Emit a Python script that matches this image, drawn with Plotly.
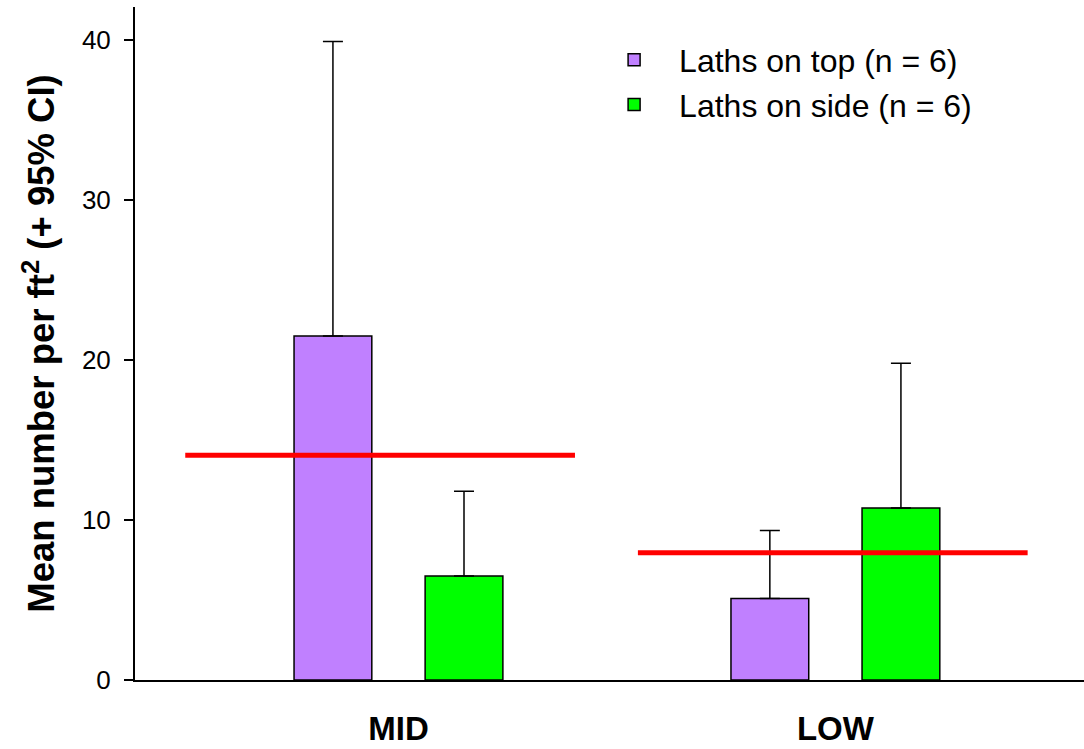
import numpy as np
import plotly.graph_objects as go

categories = ["MID", "LOW"]
top_mean = [21.5, 5.1]
top_upper = [39.9, 9.35]
side_mean = [6.5, 10.75]
side_upper = [11.8, 19.8]
overall_mean = [14.05, 7.95]

series_names = ["Laths on top (n = 6)", "Laths on side (n = 6)"]
colors = ["#C080FF", "#00FF00"]

idx = np.arange(len(categories))
offset = 0.15
bar_w = 0.178
half_line = 0.446
line_shift = [-0.042, -0.006]

fig = go.Figure()

for k, (mean, upper) in enumerate([(top_mean, top_upper), (side_mean, side_upper)]):
    err = [u - m for u, m in zip(upper, mean)]
    fig.add_trace(go.Bar(
        x=idx + (k * 2 - 1) * offset,
        y=mean,
        width=bar_w,
        name=series_names[k],
        marker=dict(color=colors[k], line=dict(color="black", width=1.5)),
        error_y=dict(type="data", array=err, symmetric=False, arrayminus=[0] * len(err),
                     color="black", thickness=1.5, width=10),
    ))

lx, ly = [], []
for i, m in zip(idx, overall_mean):
    c = i + line_shift[i]
    lx += [c - half_line, c + half_line, None]
    ly += [m, m, None]
fig.add_trace(go.Scatter(x=lx, y=ly, mode="lines", line=dict(color="#FF0000", width=5),
                         showlegend=False, hoverinfo="skip"))

fig.update_layout(
    width=1084, height=749,
    margin=dict(l=135, r=0, t=7, b=69),
    plot_bgcolor="white", paper_bgcolor="white",
    font=dict(family="Arial, Liberation Sans, sans-serif", color="black"),
    showlegend=True,
    legend=dict(x=0.4785, y=0.962, xanchor="left", yanchor="top", itemwidth=80,
                font=dict(size=32), bgcolor="rgba(0,0,0,0)"),
    xaxis=dict(range=[-0.603, 1.569], tickvals=list(idx),
               ticktext=["<b>%s</b>" % c for c in categories],
               showline=True, linecolor="black", linewidth=2, ticks="",
               tickfont=dict(size=33),
               ticklabelstandoff=18, showgrid=False, zeroline=False),
    yaxis=dict(range=[0, 42.06], tickvals=[0, 10, 20, 30, 40],
               showline=True, linecolor="black", linewidth=2,
               ticks="outside", ticklen=9, tickwidth=1.5, tickcolor="black",
               tickfont=dict(size=26), ticklabelstandoff=8,
               showgrid=False, zeroline=False,
               title=dict(text="<b>Mean number per ft<sup>2</sup> (+ 95% CI)</b>",
                          font=dict(size=36.5), standoff=16)),
)

fig.write_html("out.html")
